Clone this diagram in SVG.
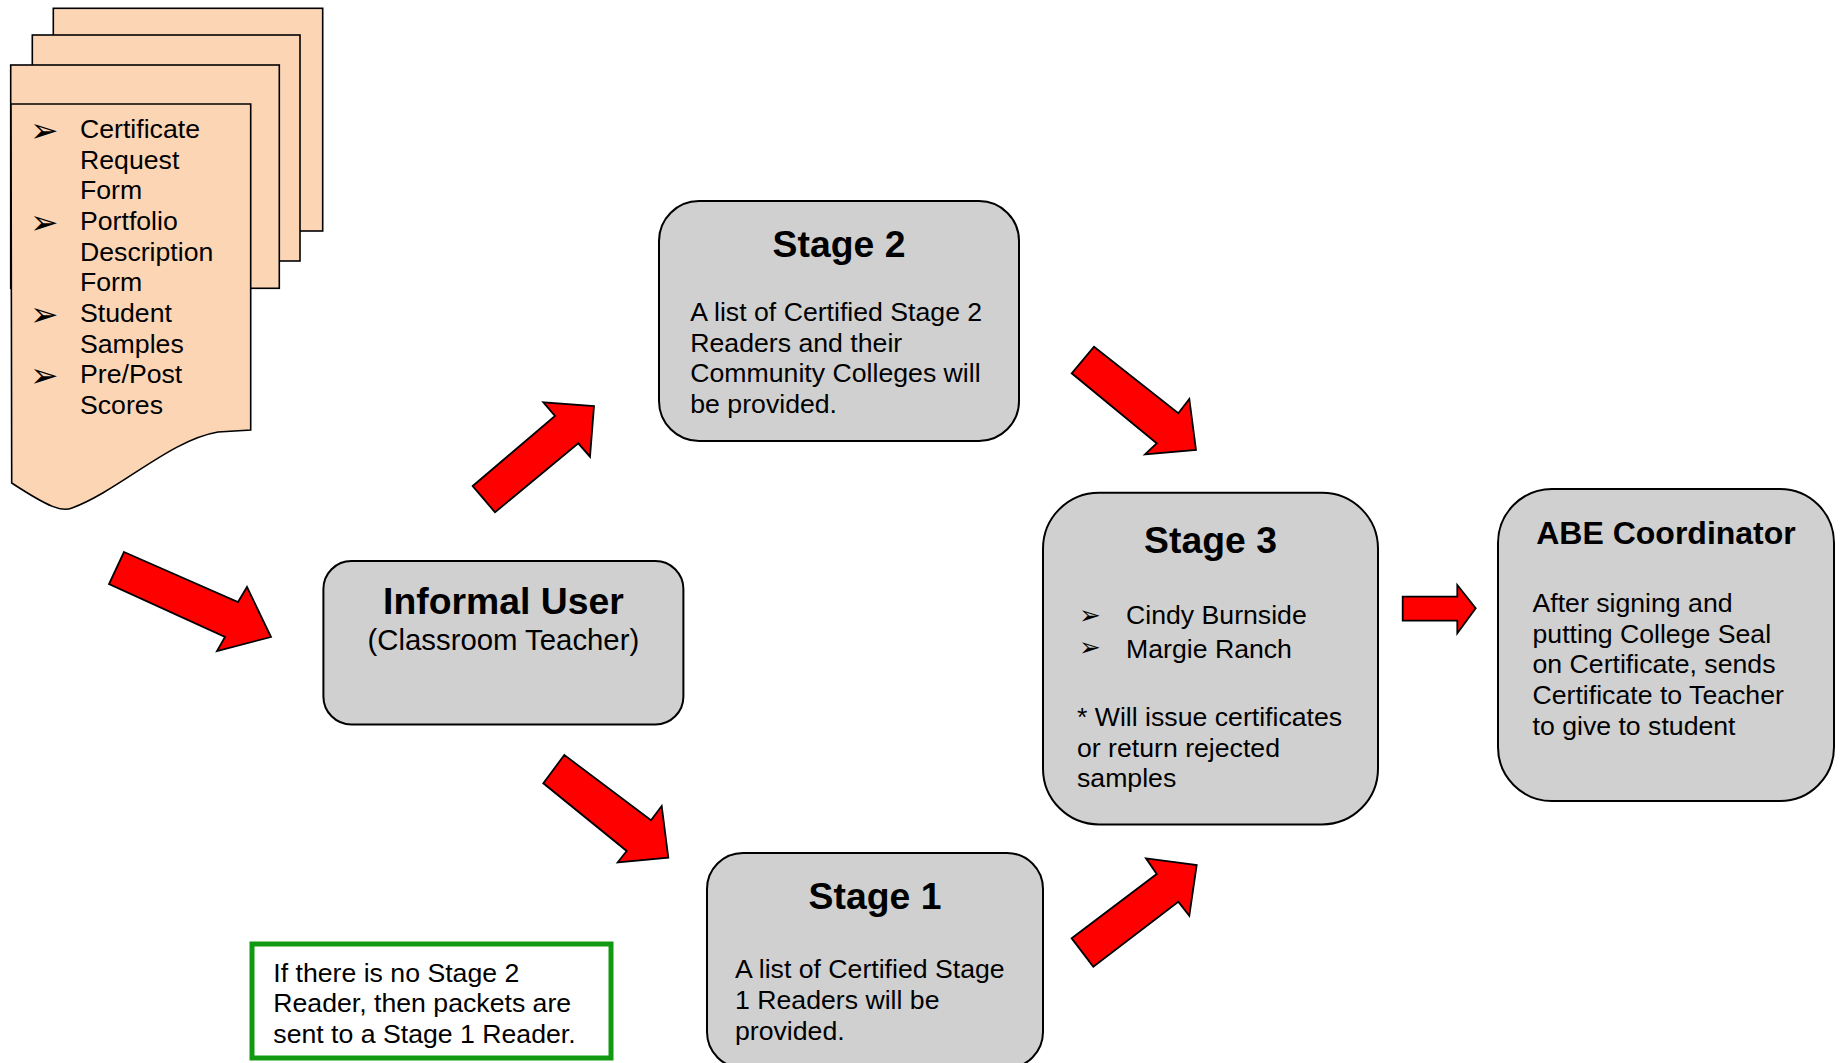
<svg xmlns="http://www.w3.org/2000/svg" width="1844" height="1063" viewBox="0 0 1844 1063">
<style>
  .box{fill:#D0D0D0;stroke:#000;stroke-width:2}
  .page{fill:#FCD5B5;stroke:#000;stroke-width:1.6}
  .arr{fill:#FF0000;stroke:#000;stroke-width:1.8;stroke-linejoin:miter}
  .t{font-family:"Liberation Sans",Arial,sans-serif;fill:#000}
  .body{font-size:26.67px}
  .title{font-size:37.33px;font-weight:bold}
  .bul{font-family:"DejaVu Sans",sans-serif;font-size:34px;fill:#000}
  .bul3{font-family:"DejaVu Sans",sans-serif;font-size:26px;fill:#000}
</style>
<rect width="1844" height="1063" fill="#fff"/>

<g id="documents">
  <rect class="page" x="53.3" y="8.3" width="269.4" height="222.7"/>
  <rect class="page" x="32.3" y="35" width="267.7" height="226"/>
  <rect class="page" x="10.7" y="65" width="268.6" height="223.3"/>
  <path class="page" d="M11 104 L250.7 104 L250.7 430 L218 432 C170 440 120 490 72 508 C62 512 50 508 11.7 483 Z"/>
  <text class="bul" x="30" y="141.7">➢</text>
  <text class="bul" x="30" y="233.7">➢</text>
  <text class="bul" x="30" y="325.7">➢</text>
  <text class="bul" x="30" y="387">➢</text>
  <text class="t body" x="80">
    <tspan x="80" y="138">Certificate</tspan>
    <tspan x="80" y="168.7">Request</tspan>
    <tspan x="80" y="199.3">Form</tspan>
    <tspan x="80" y="230">Portfolio</tspan>
    <tspan x="80" y="260.7">Description</tspan>
    <tspan x="80" y="291.3">Form</tspan>
    <tspan x="80" y="322">Student</tspan>
    <tspan x="80" y="352.7">Samples</tspan>
    <tspan x="80" y="383.3">Pre/Post</tspan>
    <tspan x="80" y="414">Scores</tspan>
  </text>
</g>

<g id="informal-user">
  <rect class="box" x="323.4" y="561" width="360" height="163.4" rx="28" ry="28"/>
  <text class="t title" x="503.4" y="614" text-anchor="middle">Informal User</text>
  <text class="t" x="503.4" y="650" text-anchor="middle" font-size="29.33">(Classroom Teacher)</text>
</g>

<g id="stage2">
  <rect class="box" x="659" y="201" width="360" height="240" rx="40" ry="40"/>
  <text class="t title" x="839" y="257" text-anchor="middle">Stage 2</text>
  <text class="t body">
    <tspan x="690.3" y="321">A list of Certified Stage 2</tspan>
    <tspan x="690.3" y="351.7">Readers and their</tspan>
    <tspan x="690.3" y="382.3">Community Colleges will</tspan>
    <tspan x="690.3" y="413">be provided.</tspan>
  </text>
</g>

<g id="stage3">
  <rect class="box" x="1043" y="492.7" width="335" height="331.7" rx="56" ry="56"/>
  <text class="t title" x="1210.5" y="553" text-anchor="middle">Stage 3</text>
  <text class="bul3" x="1079" y="624.1">➢</text>
  <text class="bul3" x="1079" y="655.6">➢</text>
  <text class="t body">
    <tspan x="1126" y="623.5">Cindy Burnside</tspan>
    <tspan x="1126" y="658">Margie Ranch</tspan>
    <tspan x="1077" y="726">* Will issue certificates</tspan>
    <tspan x="1077" y="756.7">or return rejected</tspan>
    <tspan x="1077" y="787.3">samples</tspan>
  </text>
</g>

<g id="abe-coordinator">
  <rect class="box" x="1498" y="489" width="336" height="312" rx="54" ry="54"/>
  <text class="t" x="1666" y="544" text-anchor="middle" font-size="32" font-weight="bold">ABE Coordinator</text>
  <text class="t body">
    <tspan x="1532.5" y="612">After signing and</tspan>
    <tspan x="1532.5" y="642.7">putting College Seal</tspan>
    <tspan x="1532.5" y="673.3">on Certificate, sends</tspan>
    <tspan x="1532.5" y="704">Certificate to Teacher</tspan>
    <tspan x="1532.5" y="734.7">to give to student</tspan>
  </text>
</g>

<g id="stage1">
  <rect class="box" x="707" y="853" width="336" height="215" rx="36" ry="36"/>
  <text class="t title" x="875" y="908.5" text-anchor="middle">Stage 1</text>
  <text class="t body">
    <tspan x="735" y="978.4">A list of Certified Stage</tspan>
    <tspan x="735" y="1009">1 Readers will be</tspan>
    <tspan x="735" y="1039.7">provided.</tspan>
  </text>
</g>

<g id="note">
  <rect x="252" y="944" width="359" height="114" fill="#fff" stroke="#119A11" stroke-width="5"/>
  <text class="t body">
    <tspan x="273.3" y="981.5">If there is no Stage 2</tspan>
    <tspan x="273.3" y="1012">Reader, then packets are</tspan>
    <tspan x="273.3" y="1042.7">sent to a Stage 1 Reader.</tspan>
  </text>
</g>

<g id="connectors">
  <polygon class="arr" points="124,552 238,602 247,587 271,637 217,651 225,637 109,584"/>
  <polygon class="arr" points="472.7,486 555,416 543.3,402.3 594,406 590,456.7 578.3,443.3 495,512.3"/>
  <polygon class="arr" points="1094,346.7 1178.3,413.3 1189.3,399 1196,450 1145,454.3 1156.7,443.3 1071.7,373.3"/>
  <polygon class="arr" points="564.3,755 651,820.3 661.7,806 668.3,857.7 617.7,862.3 626.7,851 543.3,783.3"/>
  <polygon class="arr" points="1071.7,938.3 1156.7,874 1146,858.3 1196.7,865 1189.3,915.7 1178.3,901.7 1093.3,966.7"/>
  <polygon class="arr" points="1402.7,596.7 1457.3,596.7 1457.3,585 1475.7,608.3 1457.3,633.3 1457.3,620.7 1402.7,620.7"/>
</g>
</svg>
